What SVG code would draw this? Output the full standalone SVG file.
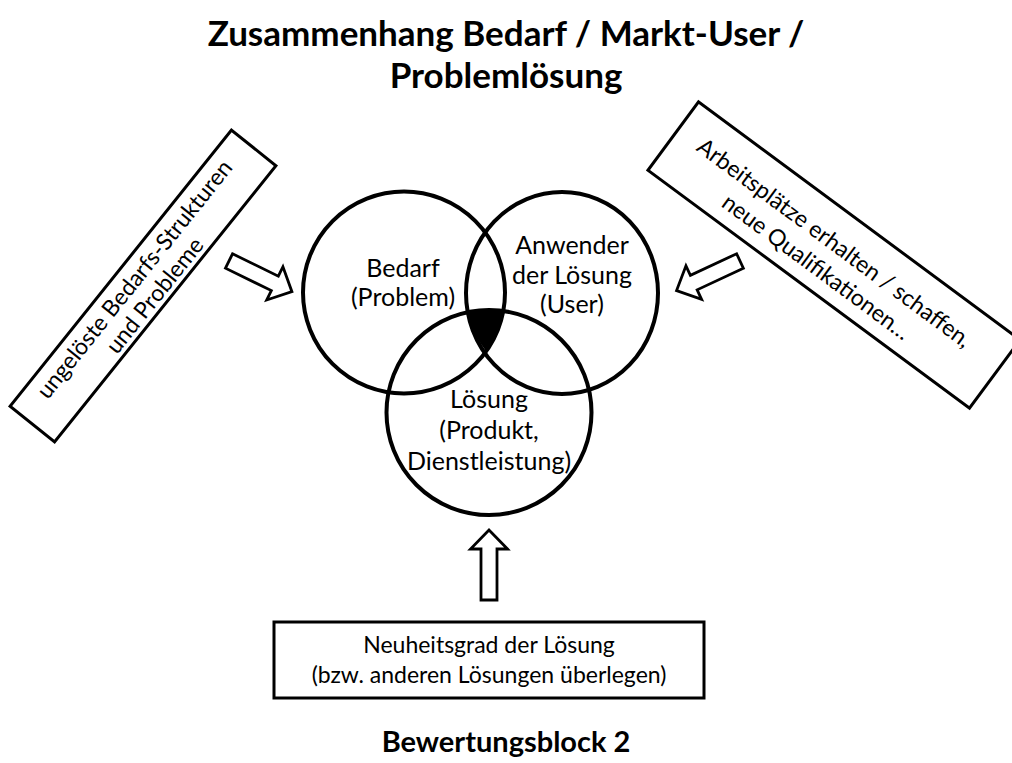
<svg xmlns="http://www.w3.org/2000/svg" width="1012" height="763" viewBox="0 0 1012 763">
<style>
.t{font-family:Lato,"Open Sans","Liberation Sans",sans-serif;fill:#000;text-anchor:middle}
.title{font-weight:bold;font-size:35px}
.foot{font-weight:bold;font-size:29px}
.c{font-size:25px}
.b{font-size:23px}
.circ{fill:none;stroke:#000;stroke-width:4}
.box{fill:#fff;stroke:#000;stroke-width:3}
.arr{fill:#fff;stroke:#000;stroke-width:2.8;stroke-linejoin:miter}
</style>
<defs>
<path id="blk" d="M0,-8 L51,-8 L51,-18.5 L70,0 L51,18.5 L51,8 L0,8 Z"/>
</defs>
<rect width="1012" height="763" fill="#fff"/>
<g id="title">
<text class="t title" x="506" y="46">Zusammenhang Bedarf / Markt-User /</text>
<text class="t title" x="506" y="88">Problemlösung</text>
</g>
<g id="box-left">
<g transform="translate(143,286) rotate(-51.3)">
<rect class="box" x="-177" y="-28.5" width="354" height="57"/>
<text class="t b" x="0" y="-3">ungelöste Bedarfs-Strukturen</text>
<text class="t b" x="0" y="23">und Probleme</text>
</g>
</g>
<g id="box-right">
<g transform="translate(834,255) rotate(36.5)">
<rect class="box" x="-200" y="-42.5" width="400" height="85"/>
<text class="t b" x="-7" y="-2">Arbeitsplätze erhalten / schaffen,</text>
<text class="t b" x="-7" y="28">neue Qualifikationen…</text>
</g>
</g>
<g id="venn">
<path d="M468,312.2 A102,102 0 0 1 503.3,311 A101,101 0 0 1 486,351.3 A96,96 0 0 1 468,312.2 Z" fill="#000"/>
<g id="bedarf">
<ellipse class="circ" cx="404" cy="292.5" rx="101" ry="101"/>
<text class="t c" x="403" y="277">Bedarf</text>
<text class="t c" x="403" y="306">(Problem)</text>
</g>
<g id="anwender">
<ellipse class="circ" cx="562" cy="293" rx="96" ry="101"/>
<text class="t c" x="572" y="254">Anwender</text>
<text class="t c" x="572" y="284">der Lösung</text>
<text class="t c" x="572" y="313">(User)</text>
</g>
<g id="loesung">
<circle class="circ" cx="489" cy="412.5" r="102.5"/>
<text class="t c" x="489" y="408">Lösung</text>
<text class="t c" x="489" y="439">(Produkt,</text>
<text class="t c" x="489" y="470">Dienstleistung)</text>
</g>
</g>
<g id="connectors">
<use href="#blk" class="arr" transform="translate(229,261) rotate(26)"/>
<use href="#blk" class="arr" transform="translate(740,261) rotate(155)"/>
<use href="#blk" class="arr" transform="translate(489,600) rotate(-90)"/>
</g>
<g id="box-bottom">
<rect class="box" x="274" y="622" width="430" height="76"/>
<text class="t b" x="489" y="653">Neuheitsgrad der Lösung</text>
<text class="t b" x="489" y="683">(bzw. anderen Lösungen überlegen)</text>
</g>
<g id="footer">
<text class="t foot" x="506" y="752">Bewertungsblock 2</text>
</g>
</svg>
